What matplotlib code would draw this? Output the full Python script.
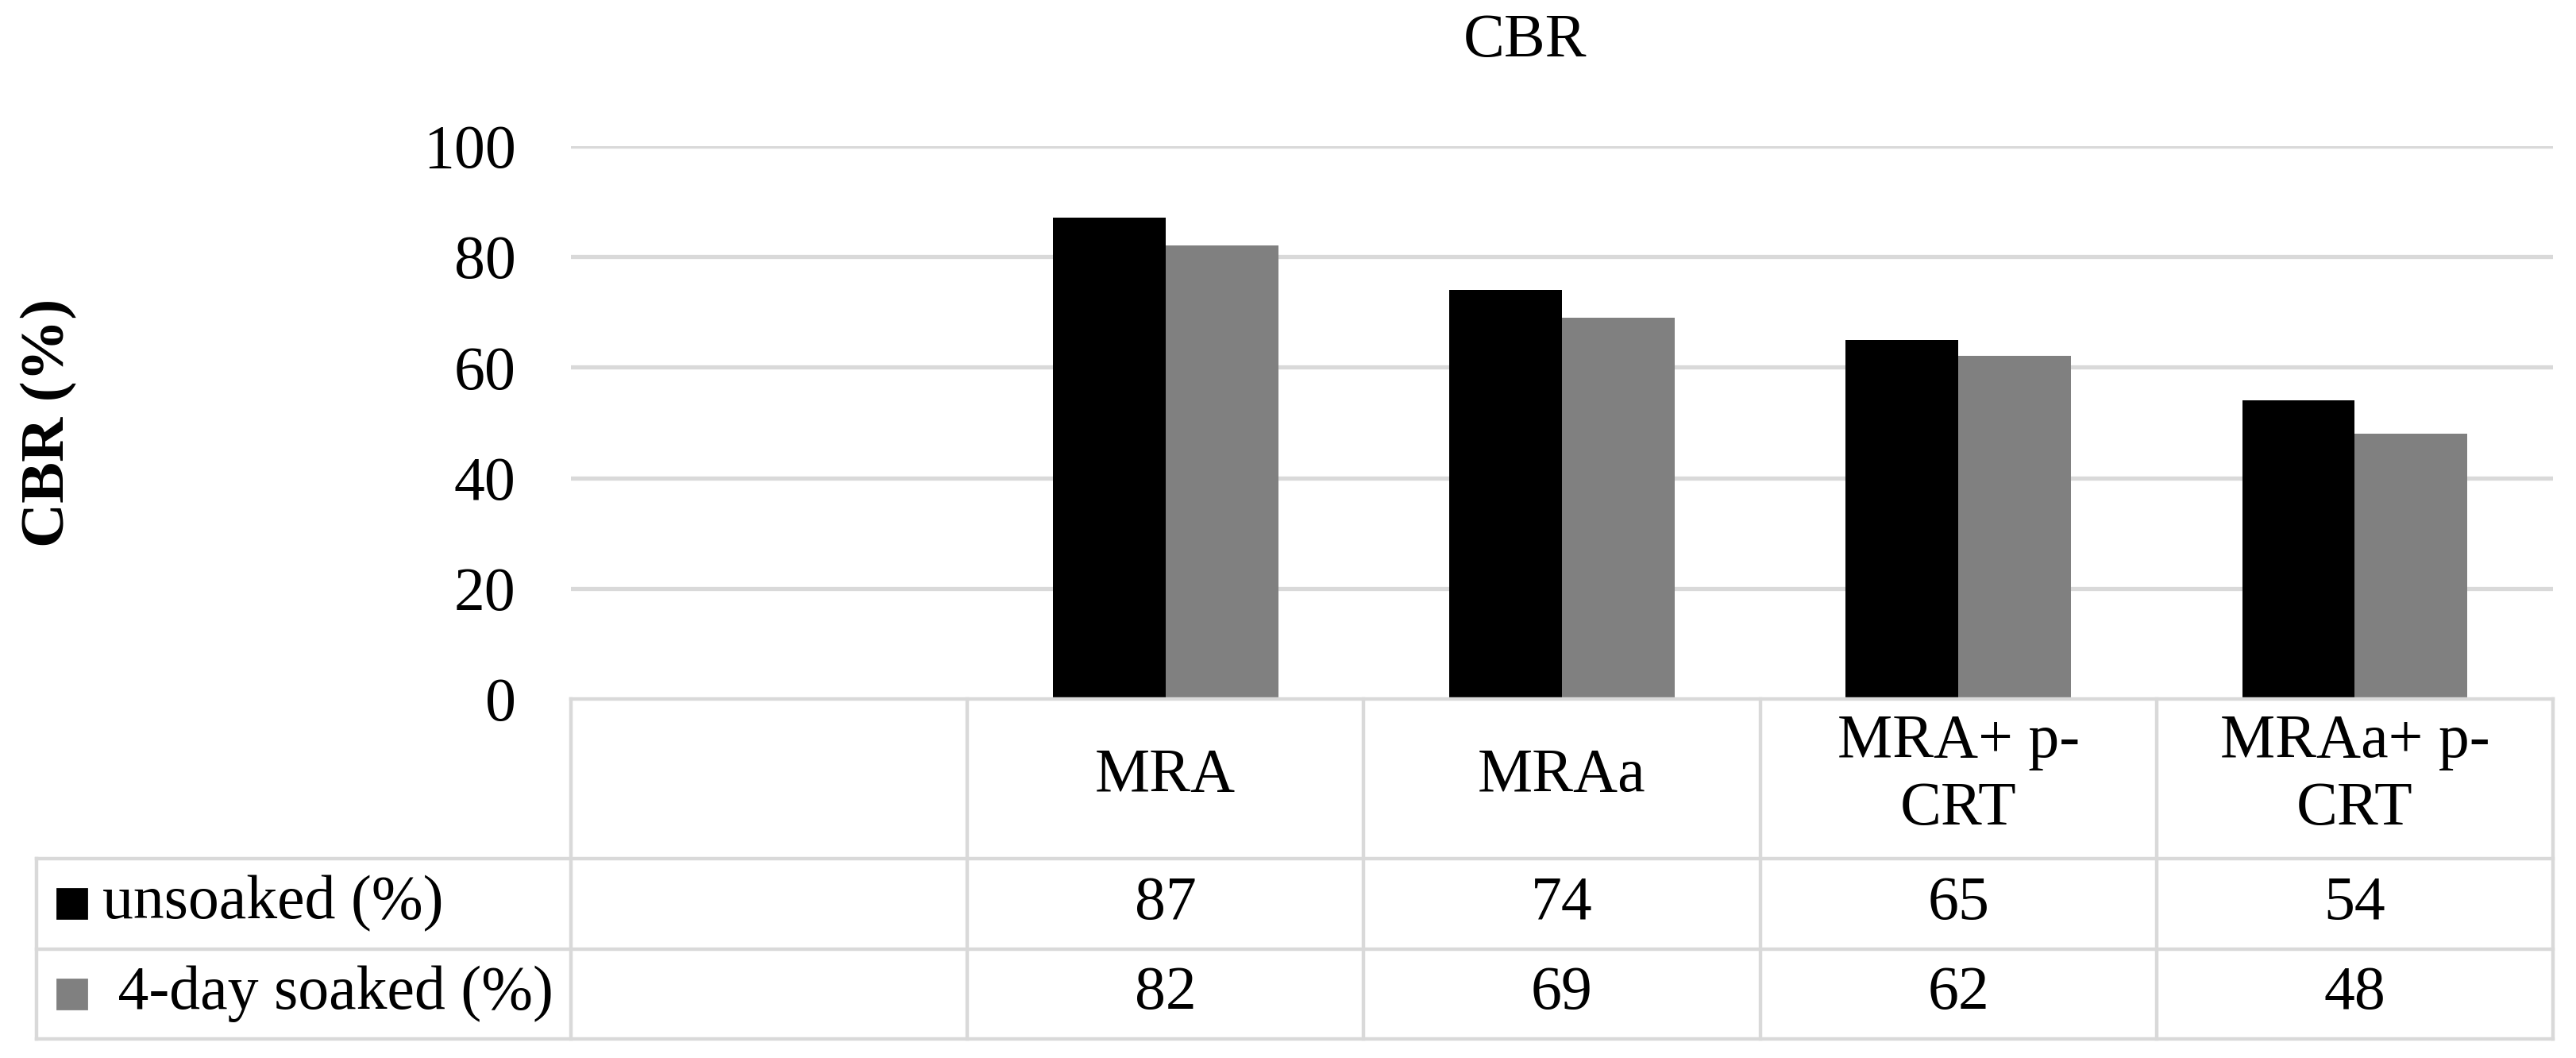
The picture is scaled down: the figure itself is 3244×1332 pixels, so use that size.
import numpy as np
import matplotlib
matplotlib.use('Agg')
import matplotlib.pyplot as plt

# data
categories = ['', 'MRA', 'MRAa', 'MRA+ p-\nCRT', 'MRAa+ p-\nCRT']
unsoaked = [np.nan, 87, 74, 65, 54]
soaked = [np.nan, 82, 69, 62, 48]
series_names = ['unsoaked (%)', ' 4-day soaked (%)']
colors = ['#000000', '#808080']
yticks = [0, 20, 40, 60, 80, 100]

plt.rcParams['font.family'] = ['Liberation Serif', 'DejaVu Serif']
fs = 28
grid_c = '#D9D9D9'
lw = 1.6

W, H = 3244, 1332
fig = plt.figure(figsize=(W / 200, H / 200), dpi=200)

# plot area (pixel positions)
px_l, px_r, px_top, px_bot = 719, 3215, 184, 880
ax = fig.add_axes([px_l / W, 1 - px_bot / H, (px_r - px_l) / W, (px_bot - px_top) / H])

x = np.arange(len(categories))
bw = 0.284
ax.bar(x - bw / 2, unsoaked, bw, color=colors[0], zorder=3)
ax.bar(x + bw / 2, soaked, bw, color=colors[1], zorder=3)

ax.set_xlim(-0.5, len(categories) - 0.5)
ax.set_ylim(0, 100)
ax.set_yticks(yticks)
ax.set_yticklabels([str(t) for t in yticks], fontsize=fs)
ax.tick_params(axis='y', length=0, pad=25)
ax.set_xticks([])
for s in ax.spines.values():
    s.set_visible(False)
for t in yticks[1:]:
    ax.axhline(t, color=grid_c, lw=lw + 0.3, zorder=1)

# data table under the plot
tb_l, tb_bot = 46, 1308
col_w = (px_r - px_l) / len(categories)
x0 = -0.5 - (px_l - tb_l) / col_w
tab = fig.add_axes([tb_l / W, 1 - tb_bot / H, (px_r - tb_l) / W, (tb_bot - px_bot) / H])
row_h = 113.5
hdr_h = (1081 - 880) / row_h
tab.set_xlim(x0, len(categories) - 0.5)
tab.set_ylim(0, 2 + hdr_h)
tab.axis('off')

top = 2 + hdr_h
xr = len(categories) - 0.5
kw = dict(color=grid_c, lw=lw, clip_on=False, solid_capstyle='projecting')
tab.plot([-0.5, xr], [top, top], **kw)
for yy in [0, 1, 2]:
    tab.plot([x0, xr], [yy, yy], **kw)
tab.plot([x0, x0], [0, 2], **kw)
for xx in np.arange(-0.5, xr + 0.01, 1):
    tab.plot([xx, xx], [0, top], **kw)

for i, c in enumerate(categories):
    tab.text(x[i], 2 + hdr_h / 2 + 0.03, c, ha='center', va='center', fontsize=fs,
             linespacing=1.25)

rows = [unsoaked, soaked]
for r, vals in enumerate(rows):
    yc = 1.5 - r
    for i, v in enumerate(vals):
        if not np.isnan(v):
            tab.text(x[i], yc, '%d' % v, ha='center', va='center', fontsize=fs)
    # legend key square
    kx = x0 + 26 / col_w
    tab.add_patch(plt.Rectangle((kx, yc - 0.165), 37 / col_w, 0.33,
                                color=colors[r], clip_on=False))
    tab.text(x0 + 83 / col_w, yc, series_names[r], ha='left', va='center',
             fontsize=fs)

fig.text(1920 / W, 1 - 52 / H, 'CBR', ha='center', va='center', fontsize=fs)
fig.text(62 / W, 1 - 532 / H, 'CBR (%)', ha='center', va='center',
         fontsize=fs, fontweight='bold', rotation=90)

fig.savefig('out.png', dpi=200, facecolor='white')
